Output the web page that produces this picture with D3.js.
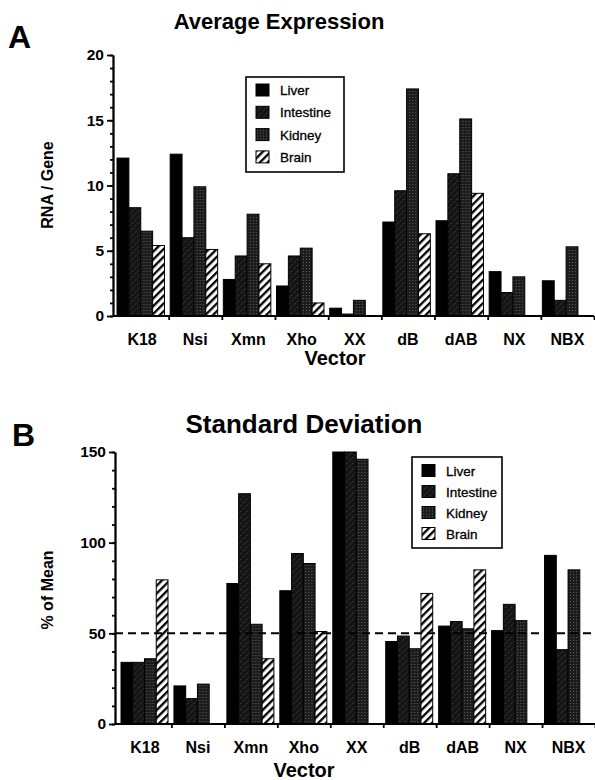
<!DOCTYPE html>
<html lang="en">
<head>
<meta charset="UTF-8">
<title>Average Expression / Standard Deviation</title>
<style>
  body { margin: 0; background: #fff; }
  svg text { font-family: "Liberation Sans", Arial, Helvetica, sans-serif; fill: #000; }
  .axis path, .axis line { stroke: #000; stroke-width: 1.8; }
  .axis text { font-size: 15.5px; font-weight: bold; }
</style>
</head>
<body>
<div id="chart"></div>
<script src="https://d3js.org/d3.v7.min.js"></script>
<script>
const vectors = ['K18', 'Nsi', 'Xmn', 'Xho', 'XX', 'dB', 'dAB', 'NX', 'NBX']
const tissues = ['Liver', 'Intestine', 'Kidney', 'Brain']

// panel A: average expression, RNA per gene
const avgLiver = [12.1, 12.4, 2.8, 2.3, 0.6, 7.2, 7.3, 3.4, 2.7]
const avgIntestine = [8.3, 6.0, 4.6, 4.6, 0.15, 9.6, 10.9, 1.8, 1.2]
const avgKidney = [6.5, 9.9, 7.8, 5.2, 1.2, 17.4, 15.1, 3.0, 5.3]
const avgBrain = [5.4, 5.1, 4.0, 1.0, null, 6.3, 9.4, null, null]

// panel B: standard deviation, % of mean
const sdLiver = [34, 21, 77.5, 73.5, 150, 45.5, 54, 51.5, 93]
const sdIntestine = [34, 14, 127, 94, 150, 48.5, 56.5, 66, 41]
const sdKidney = [36, 22, 55, 88.5, 146, 41.5, 52.5, 57, 85]
const sdBrain = [79.5, null, 36, 51, null, 72, 85, null, null]

const yTicksA = [0, 5, 10, 15, 20]
const yTicksB = [0, 50, 100, 150]

const width = 595
const height = 780

const svg = d3.select('#chart')
    .append('svg')
    .attr('width', width)
    .attr('height', height)

// fills: solid, dark hatched, dark stipple, white with black stripes
const defs = svg.append('defs')

const hatch = defs.append('pattern')
    .attr('id', 'fill-intestine')
    .attr('patternUnits', 'userSpaceOnUse')
    .attr('width', 6).attr('height', 6)
hatch.append('rect').attr('width', 6).attr('height', 6).attr('fill', '#141414')
hatch.append('path').attr('d', 'M-1,7 L7,-1')
    .attr('stroke', '#8a8a8a').attr('stroke-width', 0.6).attr('stroke-dasharray', '1,1.4')

const stipple = defs.append('pattern')
    .attr('id', 'fill-kidney')
    .attr('patternUnits', 'userSpaceOnUse')
    .attr('width', 3).attr('height', 3)
stipple.append('rect').attr('width', 3).attr('height', 3).attr('fill', '#1c1c1c')
stipple.append('rect').attr('x', 1).attr('y', 1).attr('width', 0.9).attr('height', 0.9).attr('fill', '#6e6e6e')

const stripes = defs.append('pattern')
    .attr('id', 'fill-brain')
    .attr('patternUnits', 'userSpaceOnUse')
    .attr('width', 5.5).attr('height', 5.5)
    .attr('patternTransform', 'rotate(45)')
stripes.append('rect').attr('width', 5.5).attr('height', 5.5).attr('fill', '#fff')
stripes.append('rect').attr('width', 2.3).attr('height', 5.5).attr('fill', '#000')

const fills = {
    Liver: '#000',
    Intestine: 'url(#fill-intestine)',
    Kidney: 'url(#fill-kidney)',
    Brain: 'url(#fill-brain)'
}

function drawPanel(p) {
    const g = svg.append('g')

    const y = d3.scaleLinear().domain([0, p.yMax]).range([p.bottom, p.top])
    const x = d3.scaleBand().domain(vectors).range(p.bandRange)
    const xb = d3.scaleLinear().domain([0, vectors.length]).range(p.bandRange)
    const x1 = d3.scaleBand().domain(tissues).range([p.barOffset, p.barOffset + p.groupWidth])

    const rows = vectors.map((v, i) => ({
        vector: v,
        bars: tissues.map((t, j) => ({ tissue: t, value: p.series[j][i] }))
    }))

    g.selectAll('g.group')
        .data(rows)
        .enter()
        .append('g')
        .attr('class', 'group')
        .attr('transform', d => `translate(${x(d.vector)},0)`)
        .selectAll('rect')
        .data(d => d.bars.filter(b => b.value != null))
        .enter()
        .append('rect')
        .attr('x', d => x1(d.tissue))
        .attr('width', x1.bandwidth())
        .attr('y', d => y(d.value))
        .attr('height', d => y(0) - y(d.value))
        .attr('fill', d => fills[d.tissue])
        .attr('stroke', '#000')
        .attr('stroke-width', 1)

    if (p.refLine != null) {
        g.append('line')
            .attr('x1', p.axisX).attr('x2', p.bandRange[1] - 2)
            .attr('y1', y(p.refLine)).attr('y2', y(p.refLine))
            .attr('stroke', '#000')
            .attr('stroke-width', 2)
            .attr('stroke-dasharray', '8,5')
    }

    // x axis: ticks on the category boundaries, labels under the bands
    const xAxisG = g.append('g')
        .attr('class', 'axis')
        .attr('transform', `translate(0,${p.bottom})`)
        .call(d3.axisBottom(xb).tickValues(d3.range(1, vectors.length + 1)).tickSize(4).tickSizeOuter(0).tickFormat(''))
    xAxisG.select('.domain').attr('d', `M${p.axisX},0H${p.bandRange[1]}`)

    g.append('g')
        .attr('transform', `translate(0,${p.bottom})`)
        .call(d3.axisBottom(x).tickSize(0).tickPadding(p.xLabelPad))
        .call(s => s.select('.domain').remove())
        .selectAll('text')
        .style('font-size', '16px')
        .style('font-weight', 'bold')

    // y axis with minor ticks
    g.append('g')
        .attr('class', 'axis')
        .attr('transform', `translate(${p.axisX},0)`)
        .call(d3.axisLeft(y).tickValues(d3.range(0, p.yMax + 0.001, p.minorStep)).tickSize(3).tickSizeOuter(0).tickFormat(''))
    g.append('g')
        .attr('class', 'axis')
        .attr('transform', `translate(${p.axisX},0)`)
        .call(d3.axisLeft(y).tickValues(p.yTicks).tickSize(6).tickSizeOuter(0).tickPadding(3))

    // titles
    g.append('text')
        .attr('x', p.titleX).attr('y', p.titleY)
        .attr('text-anchor', 'middle')
        .style('font-size', p.titleSize + 'px')
        .style('font-weight', 'bold')
        .text(p.title)

    g.append('text')
        .attr('x', p.letterX).attr('y', p.letterY)
        .style('font-size', '32px')
        .style('font-weight', 'bold')
        .text(p.letter)

    g.append('text')
        .attr('transform', `translate(${p.yLabelX},${p.yLabelY}) rotate(-90)`)
        .attr('text-anchor', 'middle')
        .style('font-size', '16px')
        .style('font-weight', 'bold')
        .text(p.yLabel)

    g.append('text')
        .attr('x', p.vectorX).attr('y', p.vectorY)
        .attr('text-anchor', 'middle')
        .style('font-size', '20px')
        .style('font-weight', 'bold')
        .text('Vector')

    // legend
    const lg = g.append('g').attr('transform', `translate(${p.legend.x},${p.legend.y})`)
    lg.append('rect')
        .attr('width', p.legend.w).attr('height', p.legend.h)
        .attr('fill', '#fff').attr('stroke', '#000').attr('stroke-width', 1.6)
    const items = lg.selectAll('g.item')
        .data(tissues)
        .enter()
        .append('g')
        .attr('transform', (d, i) => `translate(10,${p.legend.row0 + i * p.legend.gap})`)
    items.append('rect')
        .attr('y', -6).attr('width', 13).attr('height', 12)
        .attr('fill', d => fills[d]).attr('stroke', '#000').attr('stroke-width', 1)
    items.append('text')
        .attr('x', 24).attr('y', 5)
        .style('font-size', '13.5px')
        .style('stroke', '#000').style('stroke-width', 0.3)
        .text(d => d)
}

drawPanel({
    series: [avgLiver, avgIntestine, avgKidney, avgBrain],
    yMax: 20, yTicks: yTicksA, minorStep: 1,
    top: 55, bottom: 316, axisX: 113,
    bandRange: [115.5, 594], barOffset: 1.5, groupWidth: 47.5,
    xLabelPad: 18,
    title: 'Average Expression', titleX: 279, titleY: 29, titleSize: 22,
    letter: 'A', letterX: 8, letterY: 48,
    yLabel: 'RNA / Gene', yLabelX: 53, yLabelY: 185,
    vectorX: 335, vectorY: 365,
    legend: { x: 246, y: 77, w: 98, h: 95, row0: 13, gap: 22.3 },
    refLine: null
})

drawPanel({
    series: [sdLiver, sdIntestine, sdKidney, sdBrain],
    yMax: 150, yTicks: yTicksB, minorStep: 10,
    top: 452, bottom: 724, axisX: 115,
    bandRange: [118.5, 595], barOffset: 2.5, groupWidth: 47,
    xLabelPad: 18,
    title: 'Standard Deviation', titleX: 304, titleY: 433, titleSize: 26,
    letter: 'B', letterX: 12, letterY: 446,
    yLabel: '% of Mean', yLabelX: 53, yLabelY: 590,
    vectorX: 304, vectorY: 777,
    legend: { x: 412, y: 457, w: 90, h: 91, row0: 13.5, gap: 21 },
    refLine: 50
})
</script>
</body>
</html>
